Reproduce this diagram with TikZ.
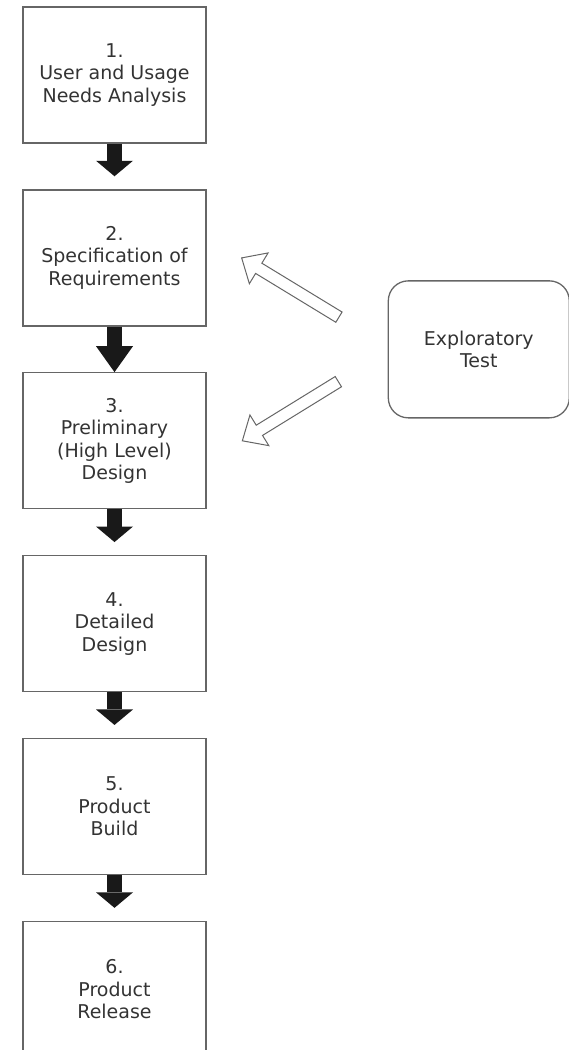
\documentclass[tikz,border=0pt]{standalone}
\usepackage{fontspec}
\setmainfont{DejaVu Sans}
\usepackage{tikz}
\usetikzlibrary{arrows.meta, calc, positioning}
\tikzstyle{block} = [rectangle, line width=1.3pt, draw=black!60, minimum width=183pt, minimum height=136pt, inner sep=0pt, align=center, text=black!80, font=\fontsize{19pt}{22.5pt}\selectfont]
\tikzstyle{explore} = [block, rounded corners=20pt, minimum width=181pt, minimum height=137pt]
\tikzstyle{arrow} = [line width=14.5pt, draw=black!90, -{Triangle[width=37pt, length=15.5pt, line width=0pt]}]
\tikzstyle{hollow} = [line width=1pt, draw=black!60, fill=white, line join=miter]
\newcommand{\hollowarrow}[2]{%
	\coordinate (#1Neck) at ($(#2)!20pt!(#1)$);
	\draw[hollow] ($(#1)!6pt!90:(#2)$) -- ($(#1Neck)!6pt!90:(#2)$) -- ($(#1Neck)!18pt!90:(#2)$) -- (#2) -- ($(#1Neck)!18pt!-90:(#2)$) -- ($(#1Neck)!6pt!-90:(#2)$) -- ($(#1)!6pt!-90:(#2)$) -- cycle;}
\begin{document}
\begin{tikzpicture}[node distance = 45.6pt]
		\useasboundingbox (0,0) rectangle (569pt,-1050pt);
		
		\node (Analysis) [block] at (114.5pt,-75pt) {1.\\User and Usage\\Needs Analysis};
		\node (Specification) [block, below = of Analysis] {2.\\Specification of\\Requirements};
		\node (Preliminary) [block, below = of Specification] {3.\\Preliminary\\(High Level)\\Design};
		\node (Detailed) [block, below = of Preliminary] {4.\\Detailed\\Design};
		\node (Build) [block, below = of Detailed] {5.\\Product\\Build};
		\node (Release) [block, below = of Build] {6.\\Product\\Release};
		
		\path (Specification.east) -- (Preliminary.east) coordinate[pos=0.5] (Middle);
		\node (Exploratory) [explore, right = 181pt of Middle] {Exploratory\\Test};
		
		\draw [arrow] (Analysis.south) -- ([yshift=13pt]Specification.north);
		\draw [arrow, -{Triangle[width=37pt, length=26pt, line width=0pt]}] (Specification.south) -- (Preliminary.north);
		\draw [arrow] (Preliminary.south) -- ([yshift=13pt]Detailed.north);
		\draw [arrow] (Detailed.south) -- ([yshift=13pt]Build.north);
		\draw [arrow] (Build.south) -- ([yshift=13pt]Release.north);
		
		\coordinate (TipUp) at ([xshift=35pt]Specification.east);
		\coordinate (TailUp) at ([shift={(-48.7pt,32.2pt)}]Exploratory.west);
		\coordinate (TipDown) at ([xshift=35.7pt]Preliminary.east);
		\coordinate (TailDown) at ([shift={(-49.3pt,-32.3pt)}]Exploratory.west);
		
		\hollowarrow{TailUp}{TipUp}
		\hollowarrow{TailDown}{TipDown}
\end{tikzpicture}
\end{document}
